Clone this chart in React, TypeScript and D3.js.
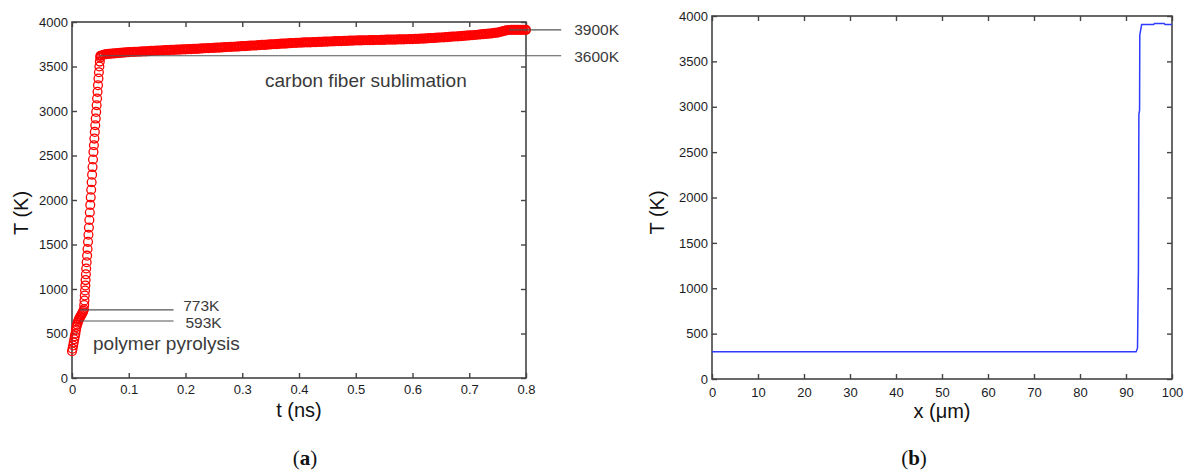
import * as d3 from "d3";
import { useEffect, useRef } from "react";

// (a) surface temperature vs time, [t (ns), T (K)]
const pyrolysisPoints: [number, number][] = [
  [0.0, 300], [0.001, 330], [0.002, 365], [0.003, 400], [0.004, 435], [0.005, 470],
  [0.006, 500], [0.007, 540], [0.008, 575], [0.009, 600], [0.01, 622], [0.011, 642],
  [0.012, 656], [0.013, 670], [0.014, 682], [0.015, 694], [0.016, 705], [0.017, 716],
  [0.018, 728], [0.019, 739], [0.02, 755], [0.021, 773],
];

const risePoints: [number, number][] = [
  [0.0215, 820], [0.022, 871], [0.0225, 927], [0.023, 983], [0.0235, 1040], [0.024, 1100],
  [0.0245, 1165], [0.025, 1230], [0.0258, 1300], [0.0266, 1375], [0.0274, 1450], [0.0282, 1530],
  [0.029, 1610], [0.0298, 1690], [0.0306, 1775], [0.0314, 1860], [0.0322, 1945], [0.033, 2030],
  [0.0338, 2115], [0.0346, 2200], [0.0354, 2285], [0.0362, 2370], [0.037, 2455], [0.0378, 2540],
  [0.0386, 2615], [0.0394, 2690], [0.0402, 2765], [0.041, 2840], [0.0418, 2915], [0.0426, 2990],
  [0.0434, 3065], [0.0442, 3140], [0.045, 3215], [0.0458, 3290], [0.0466, 3365], [0.0474, 3435],
  [0.0482, 3500], [0.049, 3555], [0.0498, 3600],
];

const plateauPoints: [number, number][] = [
  [0.05, 3620], [0.055, 3632], [0.06, 3638], [0.065, 3642], [0.07, 3645], [0.075, 3648],
  [0.08, 3651], [0.085, 3654], [0.09, 3656], [0.095, 3659], [0.1, 3661], [0.105, 3663],
  [0.11, 3664], [0.115, 3666], [0.12, 3668], [0.125, 3670], [0.13, 3671], [0.135, 3673],
  [0.14, 3675], [0.145, 3677], [0.15, 3678], [0.155, 3680], [0.16, 3681], [0.165, 3683],
  [0.17, 3684], [0.175, 3686], [0.18, 3687], [0.185, 3689], [0.19, 3690], [0.195, 3692],
  [0.2, 3693], [0.205, 3695], [0.21, 3696], [0.215, 3698], [0.22, 3699], [0.225, 3701],
  [0.23, 3703], [0.235, 3705], [0.24, 3706], [0.245, 3708], [0.25, 3710], [0.255, 3712],
  [0.26, 3713], [0.265, 3715], [0.27, 3717], [0.275, 3719], [0.28, 3720], [0.285, 3722],
  [0.29, 3724], [0.295, 3726], [0.3, 3728], [0.305, 3730], [0.31, 3732], [0.315, 3734],
  [0.32, 3736], [0.325, 3738], [0.33, 3740], [0.335, 3742], [0.34, 3744], [0.345, 3746],
  [0.35, 3748], [0.355, 3750], [0.36, 3752], [0.365, 3754], [0.37, 3756], [0.375, 3758],
  [0.38, 3760], [0.385, 3762], [0.39, 3764], [0.395, 3766], [0.4, 3767], [0.405, 3769],
  [0.41, 3770], [0.415, 3771], [0.42, 3772], [0.425, 3774], [0.43, 3775], [0.435, 3776],
  [0.44, 3777], [0.445, 3779], [0.45, 3780], [0.455, 3781], [0.46, 3782], [0.465, 3784],
  [0.47, 3785], [0.475, 3786], [0.48, 3787], [0.485, 3789], [0.49, 3790], [0.495, 3791],
  [0.5, 3792], [0.505, 3793], [0.51, 3794], [0.515, 3795], [0.52, 3795], [0.525, 3796],
  [0.53, 3797], [0.535, 3798], [0.54, 3798], [0.545, 3799], [0.55, 3800], [0.555, 3801],
  [0.56, 3802], [0.565, 3802], [0.57, 3803], [0.575, 3804], [0.58, 3805], [0.585, 3805],
  [0.59, 3806], [0.595, 3807], [0.6, 3808], [0.605, 3810], [0.61, 3811], [0.615, 3813],
  [0.62, 3814], [0.625, 3816], [0.63, 3818], [0.635, 3820], [0.64, 3822], [0.645, 3824],
  [0.65, 3826], [0.655, 3828], [0.66, 3830], [0.665, 3832], [0.67, 3835], [0.675, 3837],
  [0.68, 3839], [0.685, 3842], [0.69, 3844], [0.695, 3846], [0.7, 3849], [0.705, 3851],
  [0.71, 3854], [0.715, 3857], [0.72, 3860], [0.725, 3863], [0.73, 3866], [0.735, 3869],
  [0.74, 3873], [0.745, 3877], [0.75, 3881], [0.755, 3889], [0.76, 3898], [0.765, 3905],
  [0.77, 3910], [0.775, 3911], [0.78, 3912], [0.785, 3912], [0.79, 3912], [0.795, 3912],
  [0.8, 3912],
];

// reference levels drawn in (a): label, temperature, line start/end (ns)
const levelLabels = ["3900K", "3600K", "773K", "593K"];
const levelTemps = [3912, 3620, 765, 640];
const levelFrom = [0.77, 0.048, 0.014, 0.014];
const levelTo = [0.862, 0.862, 0.179, 0.179];

// (b) temperature profile vs depth
const depthX = [0, 92.2, 92.5, 92.7, 92.8, 92.95, 93.0, 93.4, 96.0, 96.2, 98.3, 98.5, 100];
const depthT = [300, 300, 340, 1200, 2920, 2960, 3790, 3905, 3905, 3918, 3918, 3905, 3905];

const timeTicks = [0, 0.1, 0.2, 0.3, 0.4, 0.5, 0.6, 0.7, 0.8];
const tempTicks = [0, 500, 1000, 1500, 2000, 2500, 3000, 3500, 4000];
const depthTicks = [0, 10, 20, 30, 40, 50, 60, 70, 80, 90, 100];

const W = 1189;
const H = 471;
const SANS = "'Liberation Sans', Arial, sans-serif";

type Frame = { x0: number; x1: number; y0: number; y1: number };

function drawFrame(
  g: d3.Selection<SVGGElement, unknown, null, undefined>,
  x: d3.ScaleLinear<number, number>,
  y: d3.ScaleLinear<number, number>,
  xTicks: number[],
  f: Frame,
  xPad: number
) {
  const tick = 5;
  const bottom = g
    .append("g")
    .attr("transform", `translate(0,${f.y0})`)
    .call(
      d3.axisBottom(x).tickValues(xTicks).tickSizeInner(-tick).tickSizeOuter(0).tickPadding(xPad)
        .tickFormat((d) => String(d))
    );
  const left = g
    .append("g")
    .attr("transform", `translate(${f.x0},0)`)
    .call(
      d3.axisLeft(y).tickValues(tempTicks).tickSizeInner(-tick).tickSizeOuter(0).tickPadding(4)
        .tickFormat((d) => String(d))
    );
  const top = g
    .append("g")
    .attr("transform", `translate(0,${f.y1})`)
    .call(d3.axisTop(x).tickValues(xTicks).tickSizeInner(-tick).tickSizeOuter(0).tickFormat(() => ""));
  const right = g
    .append("g")
    .attr("transform", `translate(${f.x1},0)`)
    .call(d3.axisRight(y).tickValues(tempTicks).tickSizeInner(-tick).tickSizeOuter(0).tickFormat(() => ""));

  [bottom, left, top, right].forEach((a) => {
    a.select(".domain").remove();
    a.selectAll("line").attr("stroke", "#444").attr("stroke-width", 1.4);
    a.selectAll("text").attr("font-family", SANS).attr("font-size", 13).attr("fill", "#1b1b24");
  });

  g.append("rect")
    .attr("x", f.x0)
    .attr("y", f.y1)
    .attr("width", f.x1 - f.x0)
    .attr("height", f.y0 - f.y1)
    .attr("fill", "none")
    .attr("stroke", "#444")
    .attr("stroke-width", 1.6);
}

export default function App() {
  const ref = useRef<SVGSVGElement | null>(null);

  useEffect(() => {
    if (!ref.current) return;
    const svg = d3.select(ref.current);
    svg.selectAll("*").remove();

    // ---------- panel (a) ----------
    const fa: Frame = { x0: 72, x1: 526, y0: 378, y1: 22 };
    const xa = d3.scaleLinear().domain([0, 0.8]).range([fa.x0, fa.x1]);
    const ya = d3.scaleLinear().domain([0, 4000]).range([fa.y0, fa.y1]);
    const ga = svg.append("g");

    drawFrame(ga, xa, ya, timeTicks, fa, 7);

    // open circle markers; the plateau is sampled so densely that they merge into a band
    const markers = ga.append("g").attr("fill", "none").attr("stroke", "#ff0000");
    markers
      .selectAll("circle.early")
      .data([...pyrolysisPoints, ...risePoints])
      .join("circle")
      .attr("class", "early")
      .attr("cx", (d) => xa(d[0]))
      .attr("cy", (d) => ya(d[1]))
      .attr("r", 4.4)
      .attr("stroke-width", 1.3);
    markers
      .selectAll("circle.late")
      .data(plateauPoints)
      .join("circle")
      .attr("class", "late")
      .attr("cx", (d) => xa(d[0]))
      .attr("cy", (d) => ya(d[1]))
      .attr("r", 3.9)
      .attr("stroke-width", 2.4);

    // reference level lines + labels
    const labelX = [0.885, 0.885, 0.196, 0.2];
    const labelDy = [5, 6, 1, 7];
    levelLabels.forEach((lab, i) => {
      ga.append("line")
        .attr("x1", xa(levelFrom[i]))
        .attr("x2", xa(levelTo[i]))
        .attr("y1", ya(levelTemps[i]))
        .attr("y2", ya(levelTemps[i]))
        .attr("stroke", "#555")
        .attr("stroke-width", 1.1);
      ga.append("text")
        .attr("x", xa(labelX[i]))
        .attr("y", ya(levelTemps[i]) + labelDy[i])
        .attr("font-family", SANS)
        .attr("font-size", 15.5)
        .attr("fill", "#3a3a3a")
        .text(lab);
    });

    ga.append("text")
      .attr("x", 265)
      .attr("y", 87)
      .attr("font-family", SANS)
      .attr("font-size", 19)
      .attr("fill", "#3a3a3a")
      .text("carbon fiber sublimation");

    ga.append("text")
      .attr("x", 93)
      .attr("y", 350)
      .attr("font-family", SANS)
      .attr("font-size", 19)
      .attr("fill", "#3a3a3a")
      .text("polymer pyrolysis");

    ga.append("text")
      .attr("x", (fa.x0 + fa.x1) / 2)
      .attr("y", 417)
      .attr("text-anchor", "middle")
      .attr("font-family", SANS)
      .attr("font-size", 20)
      .attr("fill", "#111")
      .text("t (ns)");

    ga.append("text")
      .attr("transform", `translate(28,${(fa.y0 + fa.y1) / 2 + 13}) rotate(-90)`)
      .attr("text-anchor", "middle")
      .attr("font-family", SANS)
      .attr("font-size", 20)
      .attr("fill", "#111")
      .text("T (K)");

    // ---------- panel (b) ----------
    const fb: Frame = { x0: 712, x1: 1172, y0: 379, y1: 16 };
    const xb = d3.scaleLinear().domain([0, 100]).range([fb.x0, fb.x1]);
    const yb = d3.scaleLinear().domain([0, 4000]).range([fb.y0, fb.y1]);
    const gb = svg.append("g");

    drawFrame(gb, xb, yb, depthTicks, fb, 8.5);

    const line = d3
      .line<number>()
      .x((d) => xb(d))
      .y((_, i) => yb(depthT[i]));

    gb.append("path")
      .datum(depthX)
      .attr("d", line)
      .attr("fill", "none")
      .attr("stroke", "#2f3bff")
      .attr("stroke-width", 1.5);

    gb.append("text")
      .attr("x", (fb.x0 + fb.x1) / 2)
      .attr("y", 418)
      .attr("text-anchor", "middle")
      .attr("font-family", SANS)
      .attr("font-size", 20)
      .attr("fill", "#111")
      .text("x (\u03bcm)");

    gb.append("text")
      .attr("transform", `translate(664,${(fb.y0 + fb.y1) / 2 + 15}) rotate(-90)`)
      .attr("text-anchor", "middle")
      .attr("font-family", SANS)
      .attr("font-size", 20)
      .attr("fill", "#111")
      .text("T (K)");

    // captions
    [
      { x: 305, letter: "a" },
      { x: 914, letter: "b" },
    ].forEach((c) => {
      const t = svg
        .append("text")
        .attr("x", c.x)
        .attr("y", 465)
        .attr("text-anchor", "middle")
        .attr("font-family", "'Liberation Serif', 'DejaVu Serif', serif")
        .attr("font-size", 21)
        .attr("fill", "#111");
      t.append("tspan").text("(");
      t.append("tspan").attr("font-weight", "bold").text(c.letter);
      t.append("tspan").text(")");
    });
  }, []);

  return (
    <svg
      ref={ref}
      width={W}
      height={H}
      style={{ position: "absolute", left: 0, top: 0, background: "#fff" }}
    />
  );
}
